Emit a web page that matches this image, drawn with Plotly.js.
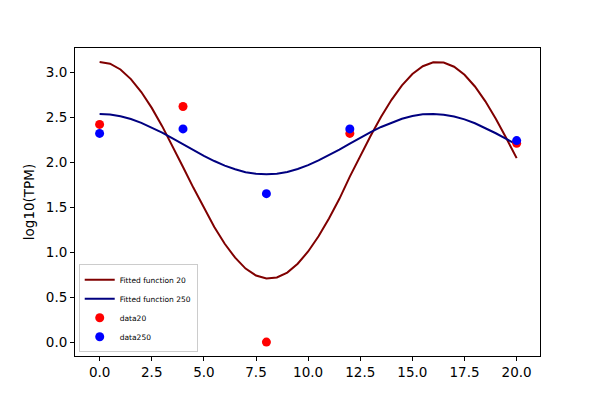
<!DOCTYPE html>
<html>
<head>
<meta charset="utf-8">
<script src="https://cdn.plot.ly/plotly-3.0.1.min.js"></script>
<style>html,body{margin:0;padding:0;background:#fff;}#plot{width:600px;height:400px;}</style>
</head>
<body>
<div id="plot"></div>
<script>
// Curve sample positions
const fitX = [0,0.5,1,1.5,2,2.5,3,3.5,4,4.5,5,5.5,6,6.5,7,7.5,8,8.5,9,9.5,10,
              10.5,11,11.5,12,12.5,13,13.5,14,14.5,15,15.5,16,16.5,17,17.5,18,18.5,19,19.5,20];
// Fitted function 20
const fit20 = [3.115,3.095,3.031,2.924,2.780,2.604,2.401,2.179,1.947,1.715,1.489,1.280,1.093,0.938,0.817,0.740,0.707,0.718,0.773,0.871,1.007,
               1.177,1.375,1.593,1.840,2.070,2.295,2.505,2.694,2.855,2.981,3.067,3.111,3.108,3.062,2.972,2.842,2.677,2.483,2.269,2.045];
// Fitted function 250
const fit250 = [2.537,2.531,2.511,2.480,2.438,2.387,2.328,2.265,2.199,2.134,2.070,2.013,1.962,1.921,1.889,1.871,1.865,1.872,1.892,1.924,1.967,
                2.020,2.077,2.140,2.206,2.272,2.335,2.392,2.442,2.483,2.514,2.532,2.537,2.529,2.509,2.476,2.433,2.381,2.322,2.259,2.195];
// Data points
const dataX = [0,4,8,12,20];
const data20 = [2.42,2.62,0.0,2.32,2.21];
const data250 = [2.32,2.37,1.65,2.37,2.24];
const yTicks = [0,0.5,1,1.5,2,2.5,3];
const xTicks = [0,2.5,5,7.5,10,12.5,15,17.5,20];

const traces = [
  {x: fitX, y: fit20, mode: 'lines', name: 'Fitted function 20', line: {color: '#800000', width: 2}},
  {x: fitX, y: fit250, mode: 'lines', name: 'Fitted function 250', line: {color: '#000080', width: 2}},
  {x: dataX, y: data20, mode: 'markers', name: 'data20', marker: {color: '#ff0000', size: 9}},
  {x: dataX, y: data250, mode: 'markers', name: 'data250', marker: {color: '#0000ff', size: 9}}
];

const axisCommon = {
  showgrid: false, zeroline: false, showline: true, mirror: true,
  linecolor: '#000', linewidth: 1, ticks: 'outside', ticklen: 4, tickwidth: 1, tickcolor: '#000',
  tickfont: {family: 'DejaVu Sans', size: 13.5, color: '#000'}
};

const layout = {
  width: 600, height: 400,
  margin: {l: 75, r: 60, t: 48, b: 44},
  paper_bgcolor: '#fff', plot_bgcolor: '#fff',
  font: {family: 'DejaVu Sans', color: '#000'},
  showlegend: true,
  xaxis: Object.assign({}, axisCommon, {
    range: [-1.18, 21.12], tickvals: xTicks, ticktext: xTicks.map(v => v.toFixed(1))
  }),
  yaxis: Object.assign({}, axisCommon, {
    range: [-0.155, 3.27], tickvals: yTicks, ticktext: yTicks.map(v => v.toFixed(1)),
    title: {text: 'log10(TPM)', font: {family: 'DejaVu Sans', size: 13.5, color: '#000'}, standoff: 8}
  }),
  legend: {
    x: 0.008, y: 0.012, xanchor: 'left', yanchor: 'bottom',
    bgcolor: 'rgba(255,255,255,0.8)', bordercolor: '#cccccc', borderwidth: 1,
    font: {family: 'DejaVu Sans', size: 7.5, color: '#000'},
    tracegroupgap: 0, itemwidth: 30
  }
};

Plotly.newPlot('plot', traces, layout, {displayModeBar: false, staticPlot: true});
</script>
</body>
</html>
